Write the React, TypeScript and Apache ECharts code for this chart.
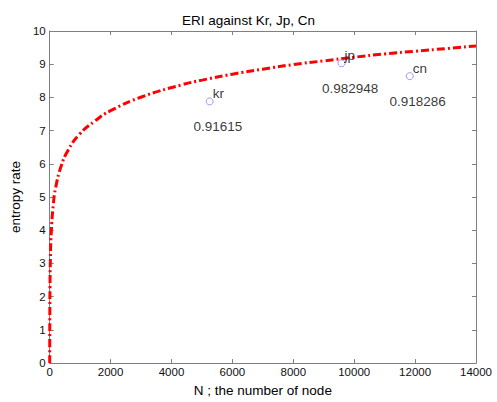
import React, { useEffect, useRef } from "react";
import * as echarts from "echarts";

const curveN = [1, 2, 5, 10, 20, 50, 120, 200, 369, 600, 969, 1500, 2000, 3035, 4340, 5000, 6000, 7000, 8000, 9000, 10000, 11000, 12000, 13000, 14000];
const curveY = [0, 0.69, 1.6, 2.3, 3.0, 3.9, 4.79, 5.3, 5.91, 6.4, 6.88, 7.3, 7.6, 8.02, 8.38, 8.52, 8.7, 8.85, 8.99, 9.1, 9.21, 9.31, 9.39, 9.47, 9.55];

const countryNames = ["kr", "jp", "cn"];
const countryN = [5254, 9584, 11824];
const countryY = [7.88, 9.03, 8.64];

const scoreLabels = ["0.91615", "0.982948", "0.918286"];
const scoreN = [4722, 8941, 11161];
const scoreY = [7.13, 8.28, 7.87];

const xTicks = [0, 2000, 4000, 6000, 8000, 10000, 12000, 14000];
const yTicks = [0, 1, 2, 3, 4, 5, 6, 7, 8, 9, 10];

const FONT = "Liberation Sans, Arial, sans-serif";

export default function App() {
  const ref = useRef<HTMLDivElement>(null);
  useEffect(() => {
    if (!ref.current) return;
    const chart = echarts.init(ref.current, undefined, { renderer: "svg" });
    const axisLine = { show: true, onZero: false, lineStyle: { color: "#808080", width: 1 } };
    const axisTick = { show: true, inside: true, length: 4, lineStyle: { color: "#808080" } };
    chart.setOption({
      animation: false,
      backgroundColor: "#ffffff",
      title: {
        text: "ERI against Kr, Jp, Cn",
        left: "center",
        top: 8,
        textStyle: { fontFamily: FONT, fontSize: 13.5, fontWeight: "normal", color: "#000" },
      },
      grid: { left: 47, top: 31, right: 21, bottom: 33 },
      xAxis: [
        {
          type: "value",
          min: 0,
          max: 14000,
          interval: xTicks[1] - xTicks[0],
          axisLine,
          axisTick,
          splitLine: { show: false },
          axisLabel: { fontFamily: FONT, fontSize: 11.5, color: "#111", margin: 3, formatter: (v: number) => String(v) },
          name: "N ; the number of node",
          nameLocation: "middle",
          nameGap: 19,
          nameTextStyle: { fontFamily: FONT, fontSize: 13.5, color: "#000" },
        },
        {
          type: "value",
          position: "top",
          min: 0,
          max: 14000,
          interval: 2000,
          axisLine,
          axisTick,
          splitLine: { show: false },
          axisLabel: { show: false },
        },
      ],
      yAxis: [
        {
          type: "value",
          min: 0,
          max: 10,
          interval: yTicks[1] - yTicks[0],
          axisLine,
          axisTick,
          splitLine: { show: false },
          axisLabel: { fontFamily: FONT, fontSize: 11.5, color: "#111", margin: 4 },
          name: "entropy rate",
          nameLocation: "middle",
          nameGap: 24,
          nameTextStyle: { fontFamily: FONT, fontSize: 13.5, color: "#000" },
        },
        {
          type: "value",
          position: "right",
          min: 0,
          max: 10,
          interval: 1,
          axisLine,
          axisTick,
          splitLine: { show: false },
          axisLabel: { show: false },
        },
      ],
      series: [
        {
          type: "line",
          data: curveN.map((n, i) => [n, curveY[i]]),
          showSymbol: false,
          smooth: true,
          lineStyle: { color: "#ff0000", width: 3, type: [8, 3, 2, 3] },
          z: 2,
        },
        {
          type: "scatter",
          data: countryN.map((n, i) => ({ value: [n, countryY[i]], name: countryNames[i] })),
          symbol: "circle",
          symbolSize: 7,
          itemStyle: { color: "transparent", borderColor: "#7f7fff", borderWidth: 1 },
          label: {
            show: true,
            position: "right",
            distance: 0,
            offset: [-1, -8],
            formatter: (p: any) => p.name,
            fontFamily: FONT,
            fontSize: 13.5,
            color: "#000",
          },
          z: 3,
        },
        {
          type: "scatter",
          data: scoreN.map((n, i) => ({ value: [n, scoreY[i]], name: scoreLabels[i] })),
          symbolSize: 0,
          silent: true,
          label: {
            show: true,
            position: "inside",
            align: "left",
            verticalAlign: "middle",
            formatter: (p: any) => p.name,
            fontFamily: FONT,
            fontSize: 13.5,
            color: "#000",
          },
          z: 3,
        },
      ],
    });
    return () => chart.dispose();
  }, []);
  return <div ref={ref} style={{ width: 497, height: 402, position: "absolute", left: 0, top: 0 }} />;
}
